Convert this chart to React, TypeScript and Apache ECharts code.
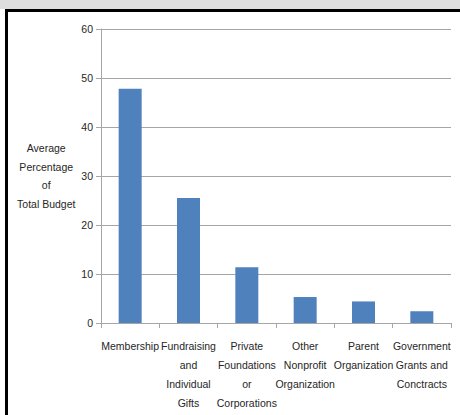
import React, { useEffect, useRef } from "react";
import * as echarts from "echarts";

const categories = [
  "Membership",
  "Fundraising\nand\nIndividual\nGifts",
  "Private\nFoundations\nor\nCorporations",
  "Other\nNonprofit\nOrganization",
  "Parent\nOrganization",
  "Government\nGrants and\nConctracts",
];
const values = [47.8, 25.5, 11.4, 5.3, 4.4, 2.4];
const yAxisName = "Average\nPercentage\nof\nTotal Budget";

const FONT = "'Liberation Sans', Arial, sans-serif";

export default function App() {
  const ref = useRef<HTMLDivElement>(null);
  useEffect(() => {
    if (!ref.current) return;
    const chart = echarts.init(ref.current, null, { renderer: "svg" });
    chart.setOption({
      animation: false,
      grid: { left: 101, top: 29, right: 9, bottom: 92, containLabel: false },
      xAxis: {
        type: "category",
        data: categories,
        axisLine: { lineStyle: { color: "#a6a6a6", width: 1 } },
        axisTick: { show: true, length: 5, lineStyle: { color: "#a6a6a6" } },
        axisLabel: {
          interval: 0,
          margin: 13,
          color: "#262626",
          fontFamily: FONT,
          fontSize: 10.5,
          lineHeight: 19,
        },
      },
      yAxis: {
        type: "value",
        min: 0,
        max: 60,
        interval: 10,
        name: yAxisName,
        nameLocation: "middle",
        nameRotate: 0,
        nameGap: 52,
        nameTextStyle: {
          color: "#262626",
          fontFamily: FONT,
          fontSize: 10.5,
          lineHeight: 18.5,
          align: "center",
        },
        axisLine: { show: true, lineStyle: { color: "#a6a6a6", width: 1 } },
        axisTick: { show: true, length: 5, lineStyle: { color: "#a6a6a6" } },
        splitLine: { lineStyle: { color: "#a6a6a6", width: 1 } },
        axisLabel: {
          margin: 8,
          color: "#262626",
          fontFamily: FONT,
          fontSize: 10.5,
        },
      },
      series: [
        {
          type: "bar",
          data: values,
          barWidth: 23,
          itemStyle: { color: "#4f81bd" },
        },
      ],
    });
    return () => chart.dispose();
  }, []);
  return (
    <div
      style={{
        position: "fixed",
        left: 0,
        top: 0,
        width: 460,
        height: 415,
        background: "#ffffff",
        overflow: "hidden",
      }}
    >
      <div
        style={{
          position: "absolute",
          left: 0,
          top: 0,
          width: 460,
          height: 9,
          background: "#dedede",
        }}
      />
      <div
        style={{
          position: "absolute",
          left: 5,
          top: 9,
          width: 470,
          height: 420,
          borderLeft: "3px solid #000",
          borderTop: "3px solid #000",
          background: "#fff",
        }}
      />
      <div
        ref={ref}
        style={{ position: "absolute", left: 0, top: 0, width: 460, height: 415 }}
      />
    </div>
  );
}
